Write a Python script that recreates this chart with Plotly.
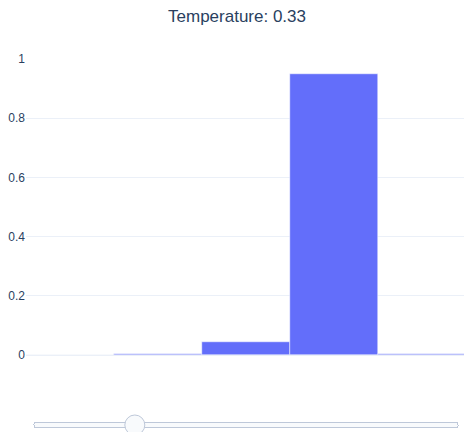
import plotly.graph_objects as go

# token ids and their probabilities at the chosen temperature
tokens = ["0", "1", "2", "3", "4"]
probs = [0.0003, 0.003, 0.045, 0.949, 0.003]
temperatures = [0.01, 0.09, 0.17, 0.25, 0.33, 0.41, 0.49, 0.57, 0.65,
                0.73, 0.81, 0.89, 0.97, 1.05, 1.13, 1.21, 1.29, 1.37]
active_temp = 4

fig = go.Figure(go.Bar(x=tokens, y=probs))

steps = []
for t in temperatures:
    steps.append(dict(method="relayout", label="",
                      args=[{"title.text": "Temperature: {:.2f}".format(t)}]))

fig.update_layout(
    template="plotly_white",
    width=458, height=424,
    font=dict(family="Arial", color="#2a3f5f"),
    title=dict(text="Temperature: {:.2f}".format(temperatures[active_temp]),
               x=0.5, xanchor="center",
               yref="container", y=0.982, yanchor="middle"),
    bargap=0,
    margin=dict(l=18, r=0, t=51, b=77, autoexpand=False),
    xaxis=dict(showticklabels=False, showgrid=False),
    yaxis=dict(range=[0, 1], dtick=0.2),
    sliders=[dict(active=active_temp, steps=steps,
                  currentvalue=dict(visible=False),
                  ticklen=0, tickwidth=0, tickcolor="rgba(0,0,0,0)",
                  font=dict(size=1, color="rgba(0,0,0,0)"),
                  pad=dict(t=60))],
)

fig.write_html("out.html")
